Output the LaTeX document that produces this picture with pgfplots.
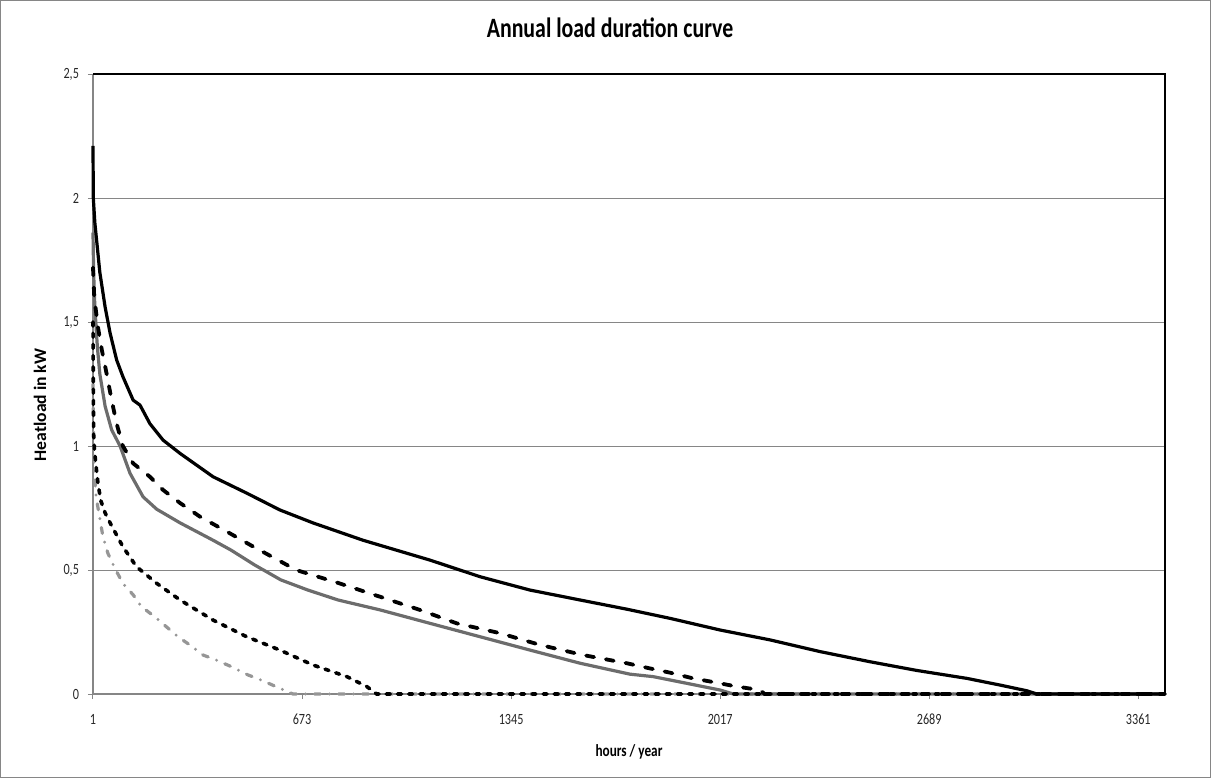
\documentclass[border=0pt]{standalone}
\usepackage{fontspec}
\setmainfont{Carlito}[FakeStretch=0.78]
\newfontfamily\plainfont{Carlito}
\usepackage{pgfplots}
\pgfplotsset{compat=1.18}
\definecolor{gridgray}{RGB}{134,134,134}
\definecolor{midgray}{RGB}{108,108,108}
\definecolor{lightgray2}{RGB}{150,150,150}
\begin{document}
\begin{tikzpicture}
\useasboundingbox (-46.5pt,-42pt) rectangle (559pt,347pt);
\draw[gridgray, line width=0.6pt] (-46.1pt,-41.6pt) rectangle (558.6pt,346.6pt);
\begin{axis}[
  at={(0,0)}, anchor=south west,
  scale only axis, width=536pt, height=310pt,
  xmin=1, xmax=3447, ymin=0, ymax=2.5,
  xtick={1,673,1345,2017,2689,3361},
  xticklabels={1,673,1345,2017,2689,3361},
  ytick={0,0.5,1,1.5,2,2.5},
  yticklabels={0,{0,5},1,{1,5},2,{2,5}},
  tick align=outside, xtick pos=lower, ytick pos=left,
  major tick length=2.5pt,
  every tick/.style={gridgray, line width=0.5pt},
  ymajorgrids, grid style={gridgray, line width=0.5pt},
  axis line style={draw=none},
  ticklabel style={font=\fontsize{7.8}{8}\selectfont, text=black!85},
  xticklabel style={yshift=-4pt},
  yticklabel style={xshift=-1pt},
  title={\textbf{Annual load duration curve}},
  title style={font=\fontsize{14}{16}\selectfont\bfseries, at={(axis description cs:0.4823,1.0548)}, anchor=center, yshift=0pt},
  xlabel={\textbf{hours / year}},
  xlabel style={font=\fontsize{8.5}{10}\selectfont\bfseries, at={(axis description cs:0.5,-0.0935)}, anchor=center},
  ylabel={\plainfont\bfseries Heatload in kW},
  ylabel style={font=\fontsize{8.8}{10}\selectfont\bfseries, at={(axis description cs:-0.0494,0.466)}, anchor=center},
  clip=false,
]
\draw[gridgray, line width=0.6pt] (rel axis cs:0,1) -- (rel axis cs:0,0) -- (rel axis cs:1,0);
\draw[black, line width=0.6pt] (rel axis cs:0,1) -- (rel axis cs:1,1) -- (rel axis cs:1,0);
% E: dash-dot gray
\addplot[lightgray2, line width=1.6pt, line cap=round, dash pattern=on 3pt off 4.5pt on 0pt off 4.5pt] coordinates {
(1,1.25)(3,1.0)(6.5,0.876)(11,0.795)(22,0.715)(33,0.634)(49,0.567)(71,0.508)(97,0.446)(130,0.4)(157,0.352)(199,0.312)(237,0.271)(274,0.231)(312,0.198)(355,0.157)(397,0.137)(446,0.11)(499,0.077)(542,0.056)(596,0.026)(644,0)(3447,0)};
% C: solid gray
\addplot[midgray, line width=1.6pt] coordinates {
(1,1.86)(3,1.7)(7,1.56)(15,1.4)(23,1.29)(40,1.16)(61,1.065)(88,1.0)(120,0.89)(162,0.795)(206,0.745)(281,0.69)(387,0.62)(445,0.58)(521,0.52)(605,0.46)(692,0.419)(789,0.379)(924,0.339)(1084,0.285)(1245,0.231)(1406,0.177)(1567,0.124)(1727,0.08)(1802,0.07)(1910,0.043)(2017,0.016)(2059,0)(3447,0)};
% D: short-dashed black
\addplot[black, line width=1.8pt, line cap=round, dash pattern=on 2pt off 3.6pt] coordinates {
(1,1.5)(2,1.25)(3,1.05)(6,0.98)(11,0.917)(17,0.85)(26,0.78)(40,0.73)(56,0.69)(97,0.594)(141,0.513)(206,0.446)(281,0.379)(387,0.298)(495,0.231)(602,0.177)(708,0.117)(817,0.07)(881,0.03)(913,0)(3447,0)};
% B: dashed black
\addplot[black, line width=1.9pt, line cap=round, dash pattern=on 4pt off 6pt] coordinates {
(1,1.72)(5,1.6)(17,1.48)(29,1.39)(45,1.29)(61,1.185)(77,1.09)(97,1.0)(130,0.93)(184,0.876)(226,0.823)(281,0.77)(345,0.715)(431,0.655)(515,0.595)(596,0.54)(654,0.5)(724,0.473)(784,0.45)(924,0.392)(1052,0.339)(1170,0.285)(1310,0.245)(1438,0.198)(1577,0.157)(1717,0.124)(1792,0.103)(1856,0.086)(1930,0.063)(2000,0.047)(2070,0.03)(2145,0.016)(2160,0)(3447,0)};
% A: solid black
\addplot[black, line width=1.6pt] coordinates {
(1,2.21)(2,2.0)(7,1.9)(23,1.70)(40,1.56)(56,1.455)(77,1.347)(97,1.28)(130,1.185)(152,1.165)(184,1.09)(226,1.024)(281,0.97)(387,0.876)(495,0.81)(602,0.742)(708,0.69)(869,0.62)(1084,0.54)(1245,0.473)(1406,0.419)(1567,0.379)(1717,0.342)(1856,0.305)(2017,0.258)(2178,0.218)(2338,0.171)(2499,0.13)(2649,0.095)(2810,0.063)(2917,0.036)(3003,0.013)(3035,0)(3447,0)};
\end{axis}
\end{tikzpicture}
\end{document}
